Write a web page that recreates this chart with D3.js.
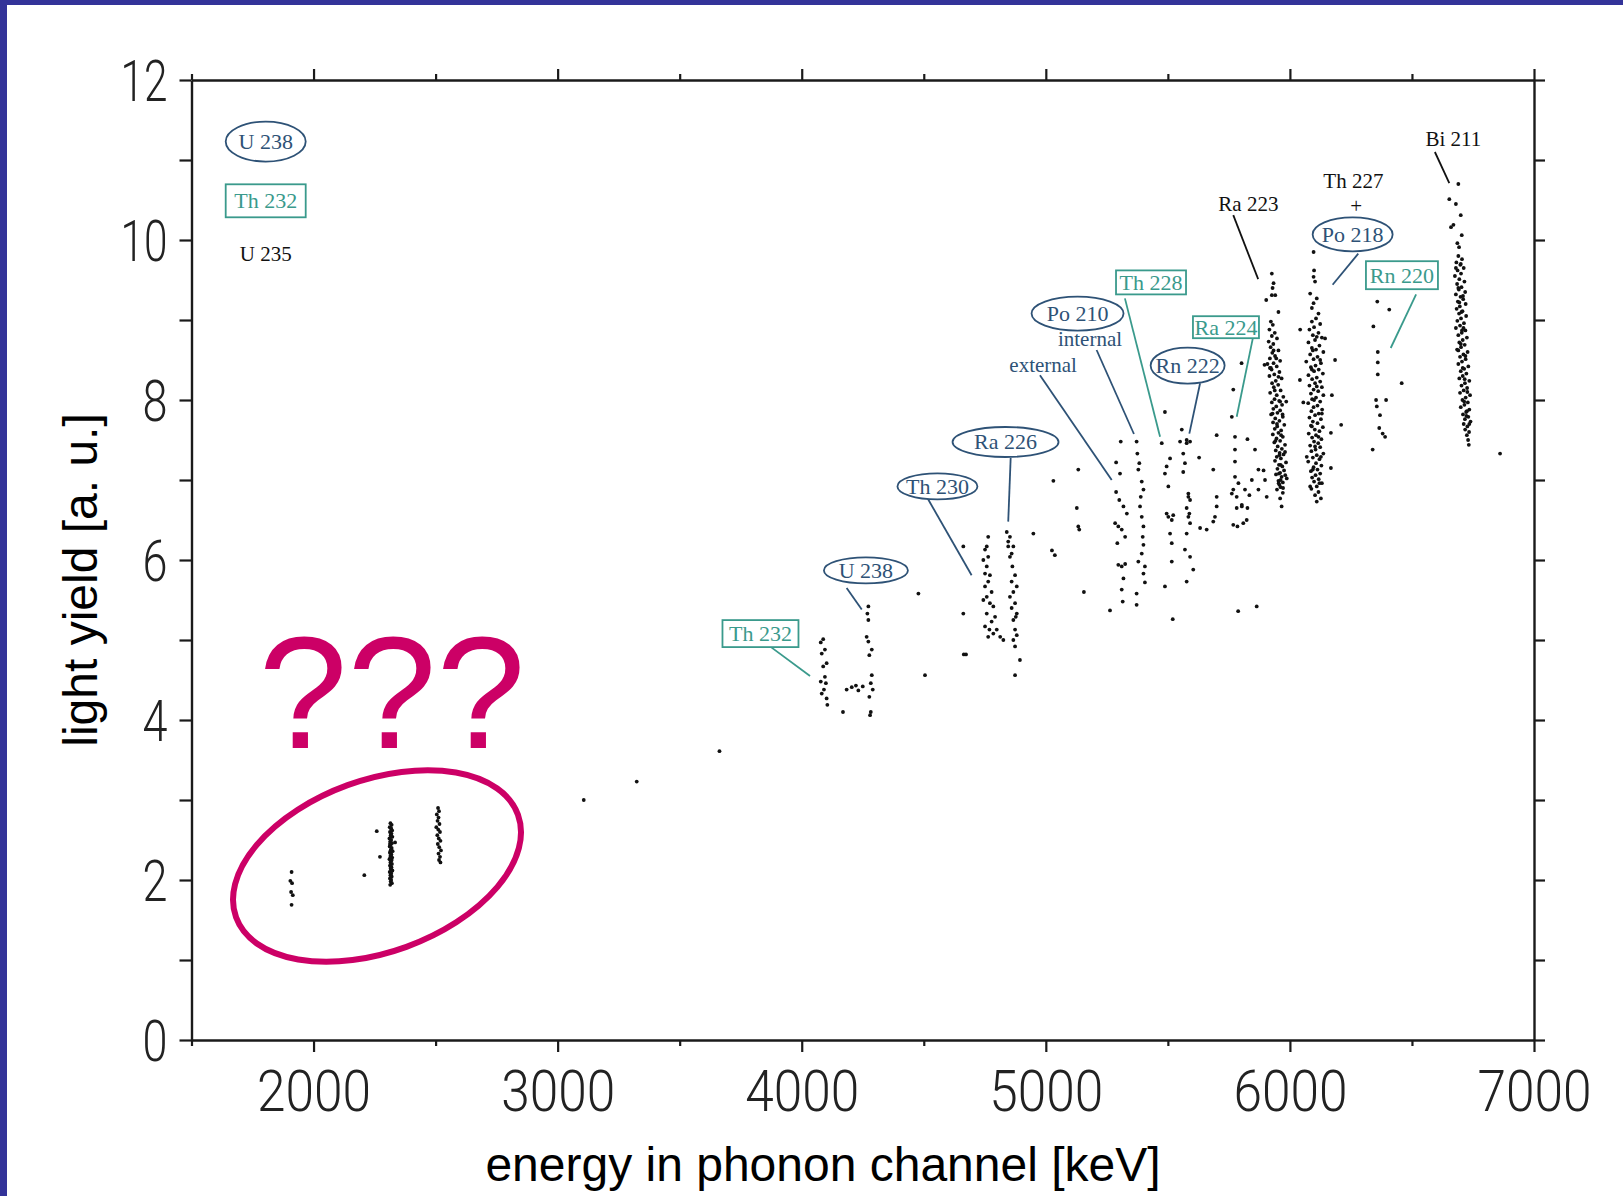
<!DOCTYPE html>
<html>
<head>
<meta charset="utf-8">
<script src="https://cdn.jsdelivr.net/npm/d3@7"></script>
<style>
  body { margin: 0; background: #fff; }
  svg { display: block; }
</style>
</head>
<body>
<svg id="chart"></svg>
<script>
// axis ticks
const xTicks = [1500, 2000, 2500, 3000, 3500, 4000, 4500, 5000, 5500, 6000, 6500, 7000];
const xLabelTicks = [2000, 3000, 4000, 5000, 6000, 7000];
const yTicks = [0, 1, 2, 3, 4, 5, 6, 7, 8, 9, 10, 11, 12];
const yLabelTicks = [0, 2, 4, 6, 8, 10, 12];

// events [energy keV, light yield]
const cluster1900 = [[1910,2.10],[1905,1.99],[1912,1.96],[1908,1.85],[1915,1.81],[1910,1.69]];
const cluster2300 = [[2208,2.06],[2259,2.61],[2272,2.29],[2334,2.47],
  [2315,2.71],[2320,2.69],[2312,2.66],[2318,2.64],[2322,2.62],[2313,2.60],[2319,2.58],[2316,2.56],[2323,2.54],[2311,2.52],
  [2318,2.50],[2314,2.48],[2321,2.46],[2316,2.44],[2312,2.42],[2320,2.40],[2317,2.38],[2324,2.36],[2313,2.34],[2319,2.32],
  [2315,2.30],[2322,2.28],[2311,2.26],[2318,2.24],[2315,2.22],[2321,2.20],[2313,2.18],[2319,2.16],[2316,2.14],[2323,2.12],
  [2312,2.10],[2318,2.08],[2315,2.06],[2320,2.04],[2313,2.02],[2318,2.00],[2316,1.98],[2321,1.96],[2314,1.94],[2317,2.55],
  [2314,2.35],[2320,2.25],[2316,2.15],[2313,2.45],[2319,2.05],[2317,2.65],[2314,2.27],[2320,2.11],[2316,2.37]];
const cluster2500 = [[2510,2.90],[2514,2.86],[2505,2.82],[2512,2.78],[2508,2.74],[2516,2.70],[2503,2.66],[2511,2.63],
  [2518,2.60],[2507,2.56],[2513,2.52],[2520,2.49],[2509,2.45],[2515,2.41],[2522,2.37],[2512,2.33],[2518,2.29],[2514,2.25],[2520,2.22]];
const isolatedPoints = [[3107,3.00],[3324,3.23],[3663,3.61],[4169,4.10],[4478,5.58],[4505,4.56],[4662,6.17],[4662,5.33],
  [4664,4.82],[4673,4.82],[4949,6.33],[5031,6.99],[5025,6.12],[5037,6.06],[5127,6.65],[5133,6.42],[5137,6.38],[5133,7.13],
  [5156,5.60],[5263,5.37],[5372,5.44],[5520,5.26],[5788,5.36],[5864,5.42],[6861,7.33]];
const th232Points = [[4088,5.01],[4078,4.97],[4095,4.88],[4082,4.83],[4102,4.71],[4088,4.67],[4095,4.54],[4078,4.48],
  [4099,4.46],[4091,4.38],[4082,4.33],[4102,4.27],[4105,4.19]];
const u238Points = [[4273,5.42],[4269,5.33],[4273,5.25],[4266,5.04],[4273,4.98],[4287,4.88],[4277,4.81],[4287,4.56],
  [4283,4.46],[4291,4.38],[4277,4.29],[4283,4.10],[4280,4.06],[4184,4.38],[4205,4.41],[4222,4.43],[4232,4.37],[4250,4.42]];
const th230Points = [[4764,6.29],[4758,6.17],[4751,6.13],[4764,6.04],[4744,6.00],[4758,5.92],[4751,5.83],[4771,5.81],
  [4764,5.73],[4751,5.67],[4778,5.60],[4758,5.54],[4744,5.50],[4771,5.46],[4785,5.42],[4758,5.33],[4792,5.29],[4778,5.23],
  [4751,5.17],[4769,5.13],[4785,5.08],[4799,5.13],[4813,5.04],[4826,5.00],[4764,5.04]];
const ra226Points = [[4840,6.35],[4853,6.29],[4846,6.23],[4867,6.17],[4860,6.08],[4853,6.04],[4874,5.81],[4860,5.73],
  [4881,5.67],[4867,5.60],[4853,5.54],[4874,5.46],[4860,5.40],[4881,5.33],[4867,5.25],[4874,5.13],[4881,5.06],[4867,5.00],
  [4874,4.92],[4894,4.75],[4874,4.56],[4846,6.17],[4863,5.92],[4877,5.29]];
const po210ExtPoints = [[5307,7.48],[5288,7.22],[5304,7.08],[5288,6.85],[5301,6.75],[5318,6.67],[5284,6.46],[5297,6.42],
  [5311,6.38],[5325,6.29],[5297,5.94],[5311,5.92],[5325,5.95],[5318,5.77],[5311,5.63],[5315,5.48],[5332,6.58],[5293,6.21]];
const po210IntPoints = [[5372,7.48],[5375,7.33],[5383,7.21],[5379,7.13],[5393,6.98],[5400,6.88],[5389,6.79],[5386,6.67],
  [5393,6.54],[5400,6.42],[5397,6.29],[5400,6.19],[5393,6.08],[5379,5.98],[5406,5.92],[5400,5.83],[5406,5.72],[5372,5.58]];
const th228Points = [[5488,7.85],[5475,7.46],[5509,7.27],[5495,7.17],[5488,7.08],[5502,6.92],[5495,6.58],[5516,6.50],
  [5509,6.33],[5516,6.21],[5516,5.98],[5488,5.67],[5502,6.54],[5522,6.56]];
const rn222Points = [[5557,7.63],[5550,7.48],[5577,7.46],[5563,7.33],[5570,7.21],[5563,7.10],[5584,6.83],[5591,6.75],
  [5577,6.65],[5584,6.54],[5591,6.46],[5577,6.33],[5570,6.13],[5591,6.04],[5604,5.88],[5577,5.73],[5584,6.79],[5588,6.58],
  [5577,7.50],[5591,7.48]];
const ra224Points = [[5762,7.79],[5775,7.54],[5775,7.38],[5775,7.23],[5775,7.04],[5789,6.96],[5768,6.88],[5782,6.79],
  [5803,6.69],[5782,6.65],[5809,6.46],[5823,6.50],[5768,6.44],[5785,6.42],[5762,6.83]];
const scatterPoints = [[5628,7.28],[5686,7.13],[5700,6.79],[5700,6.67],[5693,6.54],[5686,6.48],[5659,6.38],[5632,6.40],
  [5802,8.46],[5768,8.13],[5700,7.56],[5826,7.51],[5857,7.38],[5871,7.13],[5892,7.12],[5844,7.00],[5898,7.00],[5816,6.88],
  [5834,6.81],[5871,6.88],[5905,6.79],[5803,6.67],[5826,6.65]];
const ra223Points = [[5926,9.58],[5933,9.46],[5929,9.40],[5940,9.31],[5903,9.25],[5926,9.31],[5953,9.10],
  [5922,8.98],[5930,8.94],[5916,8.88],[5938,8.84],[5926,8.80],[5947,8.77],[5913,8.73],[5932,8.70],[5921,8.66],[5953,8.62],
  [5928,8.59],[5939,8.55],[5918,8.52],[5960,8.49],[5933,8.46],[5896,8.44],[5946,8.42],[5925,8.38],[5957,8.35],[5936,8.32],
  [5916,8.30],[5966,8.27],[5942,8.24],[5927,8.21],[5952,8.19],[5934,8.16],[5962,8.12],[5919,8.09],[5946,8.06],[5973,8.04],
  [5937,8.01],[5956,7.99],[5926,7.97],[5968,7.94],[5944,7.92],[5932,7.89],[5960,7.87],[5949,7.84],[5923,7.82],[5971,7.79],
  [5940,7.77],[5957,7.74],[5931,7.72],[5977,7.69],[5948,7.67],[5938,7.64],[5964,7.62],[5953,7.59],[5930,7.57],[5971,7.54],
  [5945,7.52],[5960,7.49],[5936,7.47],[5980,7.44],[5950,7.42],[5967,7.39],[5942,7.37],[5958,7.34],[5974,7.32],[5946,7.29],
  [5963,7.27],[5939,7.24],[5984,7.22],[5955,7.19],[5969,7.17],[5949,7.14],[5976,7.12],[5960,7.09],[5943,7.07],[5966,7.04],
  [5987,7.02],[5953,6.99],[5971,6.97],[5957,6.94],[5962,6.91],[5947,6.88],[5971,6.84],[5960,6.77],[5966,6.67],
  [5933,8.62],[5944,8.52],[5922,8.40],[5953,8.29],[5938,8.12],[5960,7.98],[5929,7.83],[5947,7.70],[5964,7.56],[5941,7.49],
  [5980,7.35],[5957,7.31],[5962,7.19],[5955,7.08],[5981,7.06],[5962,7.00],[5972,6.90],[5954,6.96],[5918,8.40],[5908,8.45],
  [5985,7.98],[5970,7.82]];
const po218Points = [[6097,9.85],[6099,9.62],[6097,9.54],[6103,9.48],[6083,9.33],[6110,9.27],[6097,9.21],[6117,9.08],[6090,9.15],
  [6107,9.02],[6090,8.98],[6124,8.95],[6099,8.91],[6080,8.88],[6117,8.84],[6094,8.81],[6131,8.78],[6103,8.75],[6076,8.72],
  [6121,8.68],[6090,8.65],[6107,8.63],[6137,8.60],[6083,8.57],[6113,8.54],[6097,8.51],[6067,8.48],[6127,8.46],[6105,8.43],
  [6086,8.41],[6118,8.38],[6099,8.36],[6135,8.33],[6076,8.31],[6110,8.28],[6091,8.26],[6124,8.23],[6103,8.21],[6080,8.18],
  [6131,8.16],[6097,8.13],[6116,8.11],[6086,8.08],[6137,8.06],[6107,8.03],[6091,8.01],[6124,7.98],[6075,7.96],[6113,7.93],
  [6097,7.91],[6132,7.88],[6088,7.86],[6118,7.83],[6103,7.81],[6080,7.78],[6127,7.76],[6094,7.73],[6113,7.71],[6086,7.68],
  [6135,7.66],[6102,7.63],[6121,7.61],[6077,7.58],[6107,7.56],[6091,7.53],[6129,7.51],[6099,7.48],[6116,7.46],[6083,7.43],
  [6124,7.41],[6105,7.38],[6088,7.36],[6137,7.33],[6110,7.31],[6094,7.28],[6121,7.26],[6075,7.23],[6107,7.21],[6129,7.18],
  [6097,7.16],[6113,7.13],[6086,7.11],[6124,7.08],[6105,7.06],[6091,7.03],[6118,7.01],[6099,6.98],[6131,6.96],[6110,6.92],
  [6088,6.89],[6117,6.85],[6103,6.81],[6127,6.77],[6110,6.73],
  [6110,8.79],[6094,8.62],[6124,8.50],[6090,8.38],[6110,8.17],[6099,8.00],[6131,7.83],[6090,7.67],[6117,7.54],[6103,7.42],
  [6127,7.29],[6094,7.13],[6121,6.96],[6083,6.92],
  [6041,8.25],[6055,7.97],[6185,8.50],[6210,7.69],[6172,8.06],[6168,7.59],[6168,7.15],[6069,7.29],[6144,8.77],[6042,8.88]];
const rn220Points = [[6358,9.23],[6407,9.13],[6342,8.92],[6360,8.60],[6360,8.47],[6360,8.32],[6458,8.21],[6353,8.00],
  [6394,8.00],[6356,7.92],[6369,7.81],[6366,7.65],[6390,7.54],[6380,7.58],[6339,7.38]];
const bi211Points = [[6690,10.70],[6653,10.51],[6680,10.45],[6700,10.31],[6660,10.16],[6670,10.19],[6704,10.06],[6686,9.96],
  [6690,9.80],[6705,9.76],[6682,9.72],[6698,9.69],[6712,9.65],[6687,9.62],[6701,9.58],[6676,9.55],[6694,9.51],[6715,9.48],
  [6685,9.45],[6703,9.41],[6692,9.38],[6718,9.35],[6680,9.32],[6699,9.29],[6710,9.26],[6688,9.23],[6720,9.20],[6696,9.17],
  [6683,9.14],[6707,9.11],[6693,9.08],[6722,9.05],[6701,9.02],[6686,8.99],[6713,8.96],[6697,8.93],[6680,8.90],[6719,8.87],
  [6704,8.84],[6690,8.81],[6725,8.78],[6708,8.75],[6694,8.72],[6716,8.69],[6701,8.66],[6685,8.63],[6728,8.60],[6711,8.57],
  [6697,8.54],[6720,8.51],[6705,8.48],[6690,8.45],[6731,8.42],[6714,8.39],[6700,8.36],[6723,8.33],[6708,8.30],[6694,8.27],
  [6735,8.24],[6717,8.21],[6703,8.18],[6726,8.15],[6712,8.12],[6697,8.09],[6738,8.06],[6720,8.03],[6707,8.00],[6729,7.97],
  [6715,7.94],[6700,7.91],[6735,7.88],[6722,7.85],[6709,7.82],[6731,7.79],[6717,7.76],[6740,7.73],[6712,7.70],[6727,7.67],
  [6718,7.63],[6734,7.60],[6725,7.56],[6730,7.50],[6733,7.44],
  [6700,9.70],[6690,9.40],[6709,9.30],[6703,9.10],[6711,8.90],[6700,8.70],[6719,8.55],[6708,8.40],[6716,8.26],[6727,8.10],
  [6714,7.98],[6723,7.80],[6735,7.70],[6725,7.86],[6690,8.62],[6705,8.87],[6694,9.22],[6680,9.65],[6693,9.91]];

// nuclide labels, placed in data coordinates
const ellipseLabels = [
  { text: "U 238", x: 1804, y: 11.23, rx: 40, ry: 20 },
  { text: "U 238", x: 4263, y: 5.87, rx: 42, ry: 13 },
  { text: "Th 230", x: 4556, y: 6.92, rx: 40, ry: 13 },
  { text: "Ra 226", x: 4835, y: 7.475, rx: 53, ry: 15 },
  { text: "Po 210", x: 5130, y: 9.08, rx: 46, ry: 17 },
  { text: "Rn 222", x: 5581, y: 8.43, rx: 37, ry: 18 },
  { text: "Po 218", x: 6257, y: 10.07, rx: 40, ry: 17 }
];
const boxLabels = [
  { text: "Th 232", x: 1804, y: 10.49, w: 80, h: 33 },
  { text: "Th 232", x: 3831, y: 5.08, w: 76, h: 27 },
  { text: "Th 228", x: 5431, y: 9.47, w: 70, h: 24 },
  { text: "Ra 224", x: 5738, y: 8.91, w: 66, h: 22 },
  { text: "Rn 220", x: 6459, y: 9.56, w: 72, h: 28 }
];
const plainLabels = [
  { text: "U 235", x: 1804, y: 9.83, kind: "black" },
  { text: "Ra 223", x: 5830, y: 10.45, kind: "black" },
  { text: "Th 227", x: 6260, y: 10.74, kind: "black" },
  { text: "+", x: 6271, y: 10.425, kind: "black" },
  { text: "Bi 211", x: 6670, y: 11.27, kind: "black" },
  { text: "internal", x: 5181, y: 8.76, kind: "blue" },
  { text: "external", x: 4989, y: 8.44, kind: "blue" }
];
const leaderLines = [
  { x1: 3870, y1: 4.92, x2: 4034, y2: 4.55, kind: "teal" },
  { x1: 4184, y1: 5.65, x2: 4246, y2: 5.38, kind: "blue" },
  { x1: 4512, y1: 6.79, x2: 4696, y2: 5.81, kind: "blue" },
  { x1: 4856, y1: 7.275, x2: 4846, y2: 6.48, kind: "blue" },
  { x1: 4976, y1: 8.31, x2: 5270, y2: 7.0, kind: "blue" },
  { x1: 5208, y1: 8.625, x2: 5361, y2: 7.575, kind: "blue" },
  { x1: 5324, y1: 9.27, x2: 5468, y2: 7.54, kind: "teal" },
  { x1: 5632, y1: 8.21, x2: 5588, y2: 7.58, kind: "blue" },
  { x1: 5848, y1: 8.77, x2: 5782, y2: 7.79, kind: "teal" },
  { x1: 5768, y1: 10.31, x2: 5870, y2: 9.51, kind: "black" },
  { x1: 6280, y1: 9.83, x2: 6175, y2: 9.44, kind: "blue" },
  { x1: 6517, y1: 9.32, x2: 6413, y2: 8.65, kind: "teal" },
  { x1: 6594, y1: 11.10, x2: 6653, y2: 10.71, kind: "black" }
];

const W = 1623, H = 1196;
const colors = { blue: "#2e5276", teal: "#3a9a8c", black: "#111", magenta: "#cc0066", frame: "#333399", axis: "#1a1a1a" };

const svg = d3.select("#chart").attr("width", W).attr("height", H);

// slide frame (top and left strips)
svg.append("rect").attr("x", 0).attr("y", 0).attr("width", W).attr("height", 5).attr("fill", colors.frame);
svg.append("rect").attr("x", 0).attr("y", 0).attr("width", 7).attr("height", H).attr("fill", colors.frame);

// scales
const x = d3.scaleLinear().domain([1500, 7000]).range([191.5, 1534]);
const y = d3.scaleLinear().domain([0, 12]).range([1040, 80]);

// events
const allPoints = [].concat(cluster1900, cluster2300, cluster2500, isolatedPoints, th232Points, u238Points,
  th230Points, ra226Points, po210ExtPoints, po210IntPoints, th228Points, rn222Points, ra224Points,
  scatterPoints, ra223Points, po218Points, rn220Points, bi211Points);

svg.append("g").selectAll("circle")
  .data(allPoints)
  .enter()
  .append("circle")
  .attr("cx", d => x(d[0]))
  .attr("cy", d => y(d[1]))
  .attr("r", 1.9)
  .attr("fill", "#111");

// leader lines
svg.append("g").selectAll("line")
  .data(leaderLines)
  .enter()
  .append("line")
  .attr("x1", d => x(d.x1)).attr("y1", d => y(d.y1))
  .attr("x2", d => x(d.x2)).attr("y2", d => y(d.y2))
  .attr("stroke", d => colors[d.kind])
  .attr("stroke-width", 1.8);

const serif = "'Liberation Serif', 'Times New Roman', serif";

// ellipse labels
const eg = svg.append("g").selectAll("g").data(ellipseLabels).enter().append("g")
  .attr("transform", d => `translate(${x(d.x)},${y(d.y)})`);
eg.append("ellipse")
  .attr("rx", d => d.rx).attr("ry", d => d.ry)
  .attr("fill", "#fff").attr("stroke", colors.blue).attr("stroke-width", 1.8);
eg.append("text")
  .attr("text-anchor", "middle").attr("dy", "0.34em")
  .style("font-family", serif).style("font-size", "22px")
  .attr("fill", colors.blue)
  .text(d => d.text);

// box labels
const bg = svg.append("g").selectAll("g").data(boxLabels).enter().append("g")
  .attr("transform", d => `translate(${x(d.x)},${y(d.y)})`);
bg.append("rect")
  .attr("x", d => -d.w / 2).attr("y", d => -d.h / 2)
  .attr("width", d => d.w).attr("height", d => d.h)
  .attr("fill", "#fff").attr("stroke", colors.teal).attr("stroke-width", 1.8);
bg.append("text")
  .attr("text-anchor", "middle").attr("dy", "0.34em")
  .style("font-family", serif).style("font-size", "22px")
  .attr("fill", colors.teal)
  .text(d => d.text);

// plain labels
svg.append("g").selectAll("text").data(plainLabels).enter().append("text")
  .attr("x", d => x(d.x)).attr("y", d => y(d.y))
  .attr("text-anchor", "middle").attr("dy", "0.34em")
  .style("font-family", serif).style("font-size", "21px")
  .attr("fill", d => colors[d.kind])
  .text(d => d.text);

// axes
const tickFont = "Roboto, 'Liberation Sans', Arial, sans-serif";
function styleAxis(g) {
  g.select(".domain").attr("stroke", colors.axis).attr("stroke-width", 2.4);
  g.selectAll(".tick line").attr("stroke", colors.axis).attr("stroke-width", 2.2);
  g.selectAll(".tick text")
    .attr("fill", "#222")
    .style("font-family", tickFont)
    .style("font-weight", 300)
    .style("font-size", "57px");
}
const isMajorX = d => xLabelTicks.includes(d);

svg.append("g")
  .attr("transform", `translate(0,${y(0)})`)
  .call(d3.axisBottom(x).tickValues(xTicks).tickSize(12).tickSizeOuter(0)
    .tickFormat(d => isMajorX(d) ? d : ""))
  .call(styleAxis)
  .call(g => g.selectAll(".tick line").attr("y2", d => isMajorX(d) ? 12 : 6))
  .call(g => g.selectAll(".tick text").attr("y", 71).attr("dy", 0)
    .attr("textLength", d => isMajorX(d) ? 114 : null)
    .attr("lengthAdjust", "spacingAndGlyphs"));

svg.append("g")
  .attr("transform", `translate(0,${y(12)})`)
  .call(d3.axisTop(x).tickValues(xTicks).tickSize(11).tickSizeOuter(0).tickFormat(""))
  .call(styleAxis)
  .call(g => g.selectAll(".tick line").attr("y2", d => isMajorX(d) ? -11 : -6));

svg.append("g")
  .attr("transform", `translate(${x(1500)},0)`)
  .call(d3.axisLeft(y).tickValues(yTicks).tickSize(12).tickPadding(12).tickSizeOuter(0)
    .tickFormat(d => yLabelTicks.includes(d) ? d : ""))
  .call(styleAxis)
  .call(g => g.selectAll(".tick text").attr("dy", "0.36em")
    .attr("textLength", d => !yLabelTicks.includes(d) ? null : (d >= 10 ? 47 : 25))
    .attr("lengthAdjust", "spacingAndGlyphs"));

svg.append("g")
  .attr("transform", `translate(${x(7000)},0)`)
  .call(d3.axisRight(y).tickValues(yTicks).tickSize(11).tickSizeOuter(0).tickFormat(""))
  .call(styleAxis);

// axis titles
const sans = "'Liberation Sans', Arial, sans-serif";
svg.append("text")
  .attr("x", 823).attr("y", 1181)
  .attr("text-anchor", "middle")
  .style("font-family", sans).style("font-size", "48px")
  .attr("fill", "#000")
  .text("energy in phonon channel [keV]");

svg.append("text")
  .attr("transform", "translate(97,580) rotate(-90)")
  .attr("text-anchor", "middle")
  .style("font-family", sans).style("font-size", "48px")
  .attr("fill", "#000")
  .text("light yield [a. u.]");

// magenta remark over the low-energy events
svg.append("text")
  .attr("x", x(2321)).attr("y", y(3.65))
  .attr("text-anchor", "middle")
  .style("font-family", sans).style("font-size", "160px")
  .attr("fill", colors.magenta)
  .text("???");

svg.append("ellipse")
  .attr("transform", `translate(${x(2260)},${y(2.175)}) rotate(-20)`)
  .attr("rx", 150).attr("ry", 86)
  .attr("fill", "none")
  .attr("stroke", colors.magenta)
  .attr("stroke-width", 6);
</script>
</body>
</html>
